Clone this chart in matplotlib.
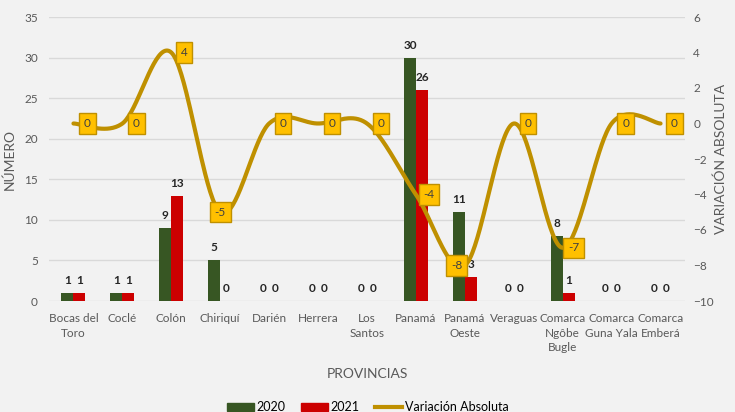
import matplotlib.pyplot as plt
import numpy as np
from matplotlib.lines import Line2D
from matplotlib.patches import Patch

# Data
provincias = ['Bocas del\nToro', 'Coclé', 'Colón', 'Chiriquí', 'Darién', 'Herrera',
              'Los\nSantos', 'Panamá', 'Panamá\nOeste', 'Veraguas', 'Comarca\nNgôbe\nBugle',
              'Comarca\nGuna Yala', 'Comarca\nEmberá']
casos_2020 = [1, 1, 9, 5, 0, 0, 0, 30, 11, 0, 8, 0, 0]
casos_2021 = [1, 1, 13, 0, 0, 0, 0, 26, 3, 0, 1, 0, 0]
variacion = [0, 0, 4, -5, 0, 0, 0, -4, -8, 0, -7, 0, 0]

# label x offsets for the variation boxes (pixels)
var_dx = [14, 14, 13, 0, 14, 14, 14, 13, -8, 14, 11, 14, 14]

bg = '#F2F2F2'
green = '#375623'
red = '#CC0000'
gold = '#BF9000'
txt = '#595959'
plt.rcParams['font.family'] = ['Lato', 'DejaVu Sans']

fig = plt.figure(figsize=(7.35, 4.12), dpi=100, facecolor=bg)
ax = fig.add_axes([49 / 735, 1 - 301 / 412, 636 / 735, 284 / 412], facecolor=bg)
x = np.arange(len(provincias))
w = 0.245

b1 = ax.bar(x - w / 2, casos_2020, w, color=green, zorder=2)
b2 = ax.bar(x + w / 2, casos_2021, w, color=red, zorder=2)
for bars in (b1, b2):
    for r in bars:
        ax.annotate(f'{int(r.get_height())}', (r.get_x() + r.get_width() / 2, r.get_height()),
                    xytext=(0, 5), textcoords='offset points', ha='center', va='bottom',
                    fontsize=8.5, fontweight='bold', color='#262626', zorder=5)

ax.set_xlim(-0.5, len(provincias) - 0.5)
ax.set_ylim(0, 35)
ax.set_yticks(range(0, 36, 5))
ax.set_xticks(x)
ax.set_xticklabels(provincias, fontsize=8.5, color=txt, linespacing=1.35)
ax.tick_params(axis='both', length=0, colors=txt, labelsize=8.5)
ax.tick_params(axis='x', pad=9)
ax.tick_params(axis='y', pad=8)
ax.grid(axis='y', color='#D9D9D9', linewidth=1, zorder=0)
for s in ax.spines.values():
    s.set_visible(False)
ax.set_ylabel('NÚMERO', fontsize=10, color=txt)
ax.yaxis.set_label_coords(-0.053, 0.5)
ax.set_xlabel('PROVINCIAS', fontsize=10, color=txt)
ax.xaxis.set_label_coords(0.5, -0.235)

# smoothed line (Excel-like bezier smoothing)
ax2 = ax.twinx()
ax2.set_ylim(-10, 6)
ax2.set_yticks(range(-10, 7, 2))
ax2.tick_params(axis='y', length=0, colors=txt, labelsize=8.5, pad=6)
for s in ax2.spines.values():
    s.set_visible(False)
ax2.set_ylabel('VARIACIÓN ABSOLUTA', fontsize=10, color=txt)
ax2.yaxis.set_label_coords(1.046, 0.5)

v = np.array(variacion, dtype=float)
pts = np.column_stack([x, v])
ext = np.vstack([pts[0], pts, pts[-1]])
t = np.linspace(0, 1, 40)[:, None]
curve = []
for i in range(len(pts) - 1):
    p0, p3 = ext[i + 1], ext[i + 2]
    c1 = p0 + (ext[i + 2] - ext[i]) / 6
    c2 = p3 - (ext[i + 3] - ext[i + 1]) / 6
    seg = (1 - t) ** 3 * p0 + 3 * (1 - t) ** 2 * t * c1 + 3 * (1 - t) * t ** 2 * c2 + t ** 3 * p3
    curve.append(seg)
curve = np.vstack(curve)
ax2.plot(curve[:, 0], curve[:, 1], color=gold, linewidth=3, solid_capstyle='round', zorder=3)

for xi, vi, dx in zip(x, variacion, var_dx):
    ax2.annotate(f'{vi}', (xi, vi), xytext=(dx * 0.72, 0), textcoords='offset points',
                 ha='center', va='center', fontsize=8.5, color='#404040', zorder=6,
                 bbox=dict(boxstyle='square,pad=0.4', fc='#FFC000', ec=gold, lw=1))

handles = [Patch(color=green, label='2020'), Patch(color=red, label='2021'),
           Line2D([], [], color=gold, linewidth=3, label='Variación Absoluta')]
fig.legend(handles=handles, loc='lower center', bbox_to_anchor=(0.5, -0.03), ncol=3,
           frameon=False, fontsize=9, handlelength=2.2, handleheight=0.6,
           columnspacing=1.2, handletextpad=0.2)

fig.savefig('out.png', dpi=100, facecolor=bg)
